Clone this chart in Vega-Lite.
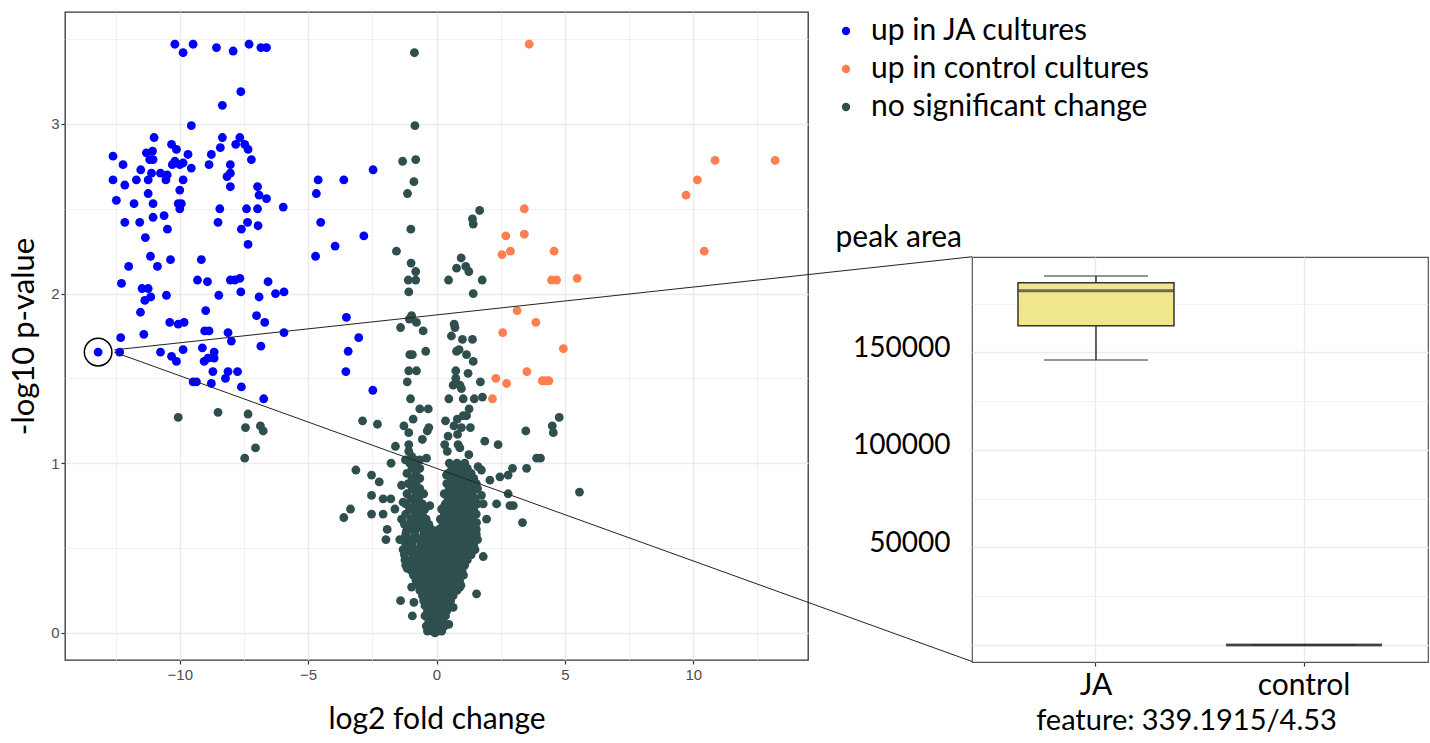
{
"$schema": "https://vega.github.io/schema/vega-lite/v6.json",
"autosize": {"type": "pad"},
"padding": {"left": 8, "top": 8, "right": 0, "bottom": 0},
"background": "white",
"bounds": "flush",
"spacing": 164,
"hconcat": [
{
"width": 743,
"height": 648,
"view": {"stroke": "#333333", "strokeWidth": 1.3},
"layer": [
{
"data": {"values": [
{"fc":-10.06,"p":1.27,"g":"ns"},{"fc":-8.51,"p":1.30,"g":"ns"},{"fc":-7.34,"p":1.29,"g":"ns"},{"fc":-7.44,"p":1.21,"g":"ns"},{"fc":-6.86,"p":1.22,"g":"ns"},{"fc":-6.75,"p":1.19,"g":"ns"},{"fc":-7.05,"p":1.09,"g":"ns"},{"fc":-7.47,"p":1.03,"g":"ns"},
{"fc":-0.86,"p":3.42,"g":"ns"},{"fc":-0.84,"p":2.99,"g":"ns"},{"fc":-1.32,"p":2.78,"g":"ns"},{"fc":-0.81,"p":2.79,"g":"ns"},{"fc":-0.88,"p":2.66,"g":"ns"},{"fc":-1.13,"p":2.59,"g":"ns"},{"fc":1.68,"p":2.49,"g":"ns"},{"fc":1.40,"p":2.44,"g":"ns"},{"fc":1.43,"p":2.41,"g":"ns"},{"fc":-1.0,"p":2.38,"g":"ns"},{"fc":-1.56,"p":2.25,"g":"ns"},{"fc":-0.99,"p":2.18,"g":"ns"},{"fc":-0.81,"p":2.13,"g":"ns"},{"fc":-1.10,"p":2.08,"g":"ns"},{"fc":-0.81,"p":2.08,"g":"ns"},{"fc":-1.08,"p":2.01,"g":"ns"},{"fc":0.96,"p":2.21,"g":"ns"},{"fc":0.78,"p":2.15,"g":"ns"},{"fc":1.14,"p":2.16,"g":"ns"},{"fc":1.26,"p":2.13,"g":"ns"},{"fc":0.47,"p":2.08,"g":"ns"},{"fc":1.78,"p":2.08,"g":"ns"},{"fc":1.43,"p":2.00,"g":"ns"},{"fc":-0.97,"p":1.87,"g":"ns"},{"fc":-1.06,"p":1.85,"g":"ns"},{"fc":-0.78,"p":1.83,"g":"ns"},{"fc":-1.40,"p":1.80,"g":"ns"},{"fc":-0.52,"p":1.78,"g":"ns"},{"fc":0.69,"p":1.82,"g":"ns"},{"fc":0.72,"p":1.80,"g":"ns"},
{"fc":4.78,"p":1.27,"g":"ns"},{"fc":4.51,"p":1.22,"g":"ns"},{"fc":4.55,"p":1.18,"g":"ns"},{"fc":4.05,"p":1.03,"g":"ns"},{"fc":5.57,"p":0.83,"g":"ns"},
{"fc":0.58,"p":1.75,"g":"ns"},{"fc":1.01,"p":1.73,"g":"ns"},{"fc":1.40,"p":1.73,"g":"ns"},{"fc":-0.42,"p":1.66,"g":"ns"},{"fc":-1.04,"p":1.64,"g":"ns"},{"fc":-0.94,"p":1.64,"g":"ns"},{"fc":0.78,"p":1.66,"g":"ns"},{"fc":0.88,"p":1.67,"g":"ns"},{"fc":1.17,"p":1.64,"g":"ns"},{"fc":1.43,"p":1.60,"g":"ns"},{"fc":-1.08,"p":1.545,"g":"ns"},{"fc":-0.78,"p":1.545,"g":"ns"},{"fc":0.75,"p":1.545,"g":"ns"},{"fc":1.23,"p":1.53,"g":"ns"},{"fc":-1.14,"p":1.48,"g":"ns"},{"fc":0.75,"p":1.50,"g":"ns"},{"fc":0.91,"p":1.46,"g":"ns"},{"fc":0.97,"p":1.44,"g":"ns"},{"fc":0.65,"p":1.46,"g":"ns"},{"fc":1.71,"p":1.48,"g":"ns"},{"fc":0.48,"p":1.38,"g":"ns"},{"fc":1.04,"p":1.38,"g":"ns"},{"fc":1.47,"p":1.38,"g":"ns"},{"fc":1.79,"p":1.39,"g":"ns"},{"fc":-1.01,"p":1.38,"g":"ns"},{"fc":-0.65,"p":1.32,"g":"ns"},{"fc":-0.32,"p":1.32,"g":"ns"},{"fc":1.27,"p":1.32,"g":"ns"},{"fc":1.04,"p":1.28,"g":"ns"},{"fc":1.17,"p":1.28,"g":"ns"},{"fc":-0.91,"p":1.26,"g":"ns"},{"fc":0.81,"p":1.26,"g":"ns"},{"fc":-2.88,"p":1.25,"g":"ns"},{"fc":-2.30,"p":1.23,"g":"ns"},{"fc":-1.27,"p":1.22,"g":"ns"},{"fc":0.35,"p":1.25,"g":"ns"},{"fc":0.68,"p":1.22,"g":"ns"},{"fc":0.97,"p":1.21,"g":"ns"},{"fc":1.32,"p":1.21,"g":"ns"},{"fc":-0.30,"p":1.21,"g":"ns"},{"fc":-0.36,"p":1.19,"g":"ns"},{"fc":-1.08,"p":1.18,"g":"ns"},{"fc":-0.55,"p":1.14,"g":"ns"},{"fc":0.45,"p":1.16,"g":"ns"},{"fc":0.82,"p":1.17,"g":"ns"},{"fc":3.48,"p":1.19,"g":"ns"},{"fc":-1.08,"p":1.11,"g":"ns"},{"fc":-1.60,"p":1.10,"g":"ns"},{"fc":0.32,"p":1.11,"g":"ns"},{"fc":0.42,"p":1.07,"g":"ns"},{"fc":0.84,"p":1.11,"g":"ns"},{"fc":0.91,"p":1.09,"g":"ns"},{"fc":1.88,"p":1.13,"g":"ns"},{"fc":2.40,"p":1.11,"g":"ns"},{"fc":-1.08,"p":1.07,"g":"ns"},{"fc":-0.97,"p":1.04,"g":"ns"},{"fc":1.26,"p":1.05,"g":"ns"},{"fc":3.90,"p":1.03,"g":"ns"},{"fc":-1.77,"p":1.00,"g":"ns"},{"fc":-1.21,"p":1.02,"g":"ns"},{"fc":-1.04,"p":1.00,"g":"ns"},{"fc":-0.84,"p":1.02,"g":"ns"},{"fc":-0.65,"p":1.02,"g":"ns"},{"fc":-0.39,"p":1.03,"g":"ns"},{"fc":0.88,"p":0.98,"g":"ns"},{"fc":1.62,"p":0.98,"g":"ns"},{"fc":1.75,"p":0.96,"g":"ns"},{"fc":2.96,"p":0.97,"g":"ns"},{"fc":3.51,"p":0.97,"g":"ns"},{"fc":-3.14,"p":0.96,"g":"ns"},{"fc":-2.53,"p":0.93,"g":"ns"},{"fc":-2.23,"p":0.89,"g":"ns"},{"fc":-1.36,"p":0.87,"g":"ns"},{"fc":0.39,"p":0.93,"g":"ns"},{"fc":0.65,"p":0.90,"g":"ns"},{"fc":1.08,"p":0.83,"g":"ns"},{"fc":2.08,"p":0.90,"g":"ns"},{"fc":2.47,"p":0.92,"g":"ns"},{"fc":2.79,"p":0.93,"g":"ns"},{"fc":2.79,"p":0.82,"g":"ns"},{"fc":1.75,"p":0.81,"g":"ns"},{"fc":-2.53,"p":0.81,"g":"ns"},{"fc":-2.08,"p":0.79,"g":"ns"},{"fc":-1.78,"p":0.79,"g":"ns"},{"fc":-3.35,"p":0.73,"g":"ns"},{"fc":-3.61,"p":0.68,"g":"ns"},{"fc":-2.53,"p":0.70,"g":"ns"},{"fc":-2.08,"p":0.70,"g":"ns"},{"fc":-1.62,"p":0.73,"g":"ns"},{"fc":-1.30,"p":0.77,"g":"ns"},{"fc":-0.97,"p":0.73,"g":"ns"},{"fc":-0.26,"p":0.75,"g":"ns"},{"fc":0.32,"p":0.75,"g":"ns"},{"fc":1.82,"p":0.76,"g":"ns"},{"fc":2.34,"p":0.76,"g":"ns"},{"fc":2.99,"p":0.75,"g":"ns"},
{"fc":-1.92,"p":0.61,"g":"ns"},{"fc":-1.97,"p":0.55,"g":"ns"},{"fc":-1.43,"p":0.55,"g":"ns"},{"fc":-1.17,"p":0.60,"g":"ns"},{"fc":-1.36,"p":0.67,"g":"ns"},{"fc":-0.94,"p":0.64,"g":"ns"},{"fc":-0.65,"p":0.68,"g":"ns"},{"fc":-0.39,"p":0.61,"g":"ns"},{"fc":-0.45,"p":0.53,"g":"ns"},{"fc":3.35,"p":0.65,"g":"ns"},{"fc":2.86,"p":0.75,"g":"ns"},{"fc":1.95,"p":0.67,"g":"ns"},{"fc":1.56,"p":0.65,"g":"ns"},{"fc":1.30,"p":0.57,"g":"ns"},{"fc":1.82,"p":0.45,"g":"ns"},{"fc":1.04,"p":0.42,"g":"ns"},{"fc":-1.17,"p":0.48,"g":"ns"},{"fc":-1.23,"p":0.43,"g":"ns"},{"fc":-1.14,"p":0.38,"g":"ns"},{"fc":-0.97,"p":0.27,"g":"ns"},{"fc":-1.40,"p":0.19,"g":"ns"},{"fc":-0.88,"p":0.18,"g":"ns"},{"fc":-0.94,"p":0.10,"g":"ns"},{"fc":1.56,"p":0.23,"g":"ns"},{"fc":0.65,"p":0.15,"g":"ns"},{"fc":0.91,"p":0.27,"g":"ns"},{"fc":0.48,"p":0.05,"g":"ns"},{"fc":-0.26,"p":0.02,"g":"ns"},{"fc":-0.06,"p":0.0,"g":"ns"},
{"fc":-0.35,"p":0.01,"g":"ns"},{"fc":-0.15,"p":0.01,"g":"ns"},{"fc":0.05,"p":0.01,"g":"ns"},{"fc":0.2,"p":0.01,"g":"ns"},
{"fc":-0.4,"p":0.04,"g":"ns"},{"fc":-0.2,"p":0.04,"g":"ns"},{"fc":0.0,"p":0.04,"g":"ns"},{"fc":0.15,"p":0.04,"g":"ns"},{"fc":0.3,"p":0.04,"g":"ns"},
{"fc":-0.3,"p":0.07,"g":"ns"},{"fc":-0.1,"p":0.07,"g":"ns"},{"fc":0.1,"p":0.07,"g":"ns"},{"fc":0.25,"p":0.07,"g":"ns"},
{"fc":-0.45,"p":0.10,"g":"ns"},{"fc":-0.25,"p":0.10,"g":"ns"},{"fc":-0.05,"p":0.10,"g":"ns"},{"fc":0.15,"p":0.10,"g":"ns"},{"fc":0.35,"p":0.10,"g":"ns"},
{"fc":-0.35,"p":0.13,"g":"ns"},{"fc":-0.15,"p":0.13,"g":"ns"},{"fc":0.05,"p":0.13,"g":"ns"},{"fc":0.25,"p":0.13,"g":"ns"},{"fc":0.4,"p":0.13,"g":"ns"},
{"fc":-0.45,"p":0.16,"g":"ns"},{"fc":-0.25,"p":0.16,"g":"ns"},{"fc":-0.05,"p":0.16,"g":"ns"},{"fc":0.15,"p":0.16,"g":"ns"},{"fc":0.35,"p":0.16,"g":"ns"},{"fc":0.5,"p":0.16,"g":"ns"},
{"fc":-0.5,"p":0.19,"g":"ns"},{"fc":-0.3,"p":0.19,"g":"ns"},{"fc":-0.1,"p":0.19,"g":"ns"},{"fc":0.1,"p":0.19,"g":"ns"},{"fc":0.3,"p":0.19,"g":"ns"},{"fc":0.55,"p":0.19,"g":"ns"},
{"fc":-0.55,"p":0.22,"g":"ns"},{"fc":-0.35,"p":0.22,"g":"ns"},{"fc":-0.15,"p":0.22,"g":"ns"},{"fc":0.05,"p":0.22,"g":"ns"},{"fc":0.25,"p":0.22,"g":"ns"},{"fc":0.45,"p":0.22,"g":"ns"},{"fc":0.65,"p":0.22,"g":"ns"},
{"fc":-0.65,"p":0.25,"g":"ns"},{"fc":-0.4,"p":0.25,"g":"ns"},{"fc":-0.2,"p":0.25,"g":"ns"},{"fc":0.0,"p":0.25,"g":"ns"},{"fc":0.2,"p":0.25,"g":"ns"},{"fc":0.4,"p":0.25,"g":"ns"},{"fc":0.6,"p":0.25,"g":"ns"},{"fc":0.8,"p":0.25,"g":"ns"},
{"fc":-0.7,"p":0.28,"g":"ns"},{"fc":-0.45,"p":0.28,"g":"ns"},{"fc":-0.25,"p":0.28,"g":"ns"},{"fc":-0.05,"p":0.28,"g":"ns"},{"fc":0.15,"p":0.28,"g":"ns"},{"fc":0.35,"p":0.28,"g":"ns"},{"fc":0.55,"p":0.28,"g":"ns"},{"fc":0.75,"p":0.28,"g":"ns"},{"fc":0.95,"p":0.28,"g":"ns"},
{"fc":-0.8,"p":0.31,"g":"ns"},{"fc":-0.55,"p":0.31,"g":"ns"},{"fc":-0.3,"p":0.31,"g":"ns"},{"fc":-0.1,"p":0.31,"g":"ns"},{"fc":0.1,"p":0.31,"g":"ns"},{"fc":0.3,"p":0.31,"g":"ns"},{"fc":0.5,"p":0.31,"g":"ns"},{"fc":0.7,"p":0.31,"g":"ns"},{"fc":0.9,"p":0.31,"g":"ns"},
{"fc":-0.9,"p":0.34,"g":"ns"},{"fc":-0.6,"p":0.34,"g":"ns"},{"fc":-0.35,"p":0.34,"g":"ns"},{"fc":-0.15,"p":0.34,"g":"ns"},{"fc":0.05,"p":0.34,"g":"ns"},{"fc":0.25,"p":0.34,"g":"ns"},{"fc":0.45,"p":0.34,"g":"ns"},{"fc":0.65,"p":0.34,"g":"ns"},{"fc":0.85,"p":0.34,"g":"ns"},{"fc":1.05,"p":0.34,"g":"ns"},
{"fc":-1.0,"p":0.37,"g":"ns"},{"fc":-0.7,"p":0.37,"g":"ns"},{"fc":-0.45,"p":0.37,"g":"ns"},{"fc":-0.2,"p":0.37,"g":"ns"},{"fc":0.0,"p":0.37,"g":"ns"},{"fc":0.2,"p":0.37,"g":"ns"},{"fc":0.4,"p":0.37,"g":"ns"},{"fc":0.6,"p":0.37,"g":"ns"},{"fc":0.8,"p":0.37,"g":"ns"},{"fc":1.0,"p":0.37,"g":"ns"},
{"fc":-1.2,"p":0.40,"g":"ns"},{"fc":-0.9,"p":0.40,"g":"ns"},{"fc":-0.6,"p":0.40,"g":"ns"},{"fc":-0.35,"p":0.40,"g":"ns"},{"fc":-0.1,"p":0.40,"g":"ns"},{"fc":0.1,"p":0.40,"g":"ns"},{"fc":0.3,"p":0.40,"g":"ns"},{"fc":0.5,"p":0.40,"g":"ns"},{"fc":0.7,"p":0.40,"g":"ns"},{"fc":0.9,"p":0.40,"g":"ns"},{"fc":1.1,"p":0.40,"g":"ns"},
{"fc":-1.0,"p":0.43,"g":"ns"},{"fc":-0.75,"p":0.43,"g":"ns"},{"fc":-0.5,"p":0.43,"g":"ns"},{"fc":-0.25,"p":0.43,"g":"ns"},{"fc":0.0,"p":0.43,"g":"ns"},{"fc":0.2,"p":0.43,"g":"ns"},{"fc":0.4,"p":0.43,"g":"ns"},{"fc":0.6,"p":0.43,"g":"ns"},{"fc":0.8,"p":0.43,"g":"ns"},{"fc":1.0,"p":0.43,"g":"ns"},{"fc":1.2,"p":0.43,"g":"ns"},
{"fc":-1.25,"p":0.46,"g":"ns"},{"fc":-0.9,"p":0.46,"g":"ns"},{"fc":-0.6,"p":0.46,"g":"ns"},{"fc":-0.35,"p":0.46,"g":"ns"},{"fc":-0.1,"p":0.46,"g":"ns"},{"fc":0.15,"p":0.46,"g":"ns"},{"fc":0.35,"p":0.46,"g":"ns"},{"fc":0.55,"p":0.46,"g":"ns"},{"fc":0.75,"p":0.46,"g":"ns"},{"fc":0.95,"p":0.46,"g":"ns"},{"fc":1.15,"p":0.46,"g":"ns"},{"fc":1.35,"p":0.46,"g":"ns"},
{"fc":-1.3,"p":0.49,"g":"ns"},{"fc":-1.05,"p":0.49,"g":"ns"},{"fc":-0.75,"p":0.49,"g":"ns"},{"fc":-0.45,"p":0.49,"g":"ns"},{"fc":-0.2,"p":0.49,"g":"ns"},{"fc":0.05,"p":0.49,"g":"ns"},{"fc":0.25,"p":0.49,"g":"ns"},{"fc":0.5,"p":0.49,"g":"ns"},{"fc":0.7,"p":0.49,"g":"ns"},{"fc":0.9,"p":0.49,"g":"ns"},{"fc":1.1,"p":0.49,"g":"ns"},{"fc":1.3,"p":0.49,"g":"ns"},{"fc":1.5,"p":0.49,"g":"ns"},
{"fc":-1.2,"p":0.52,"g":"ns"},{"fc":-0.95,"p":0.52,"g":"ns"},{"fc":-0.6,"p":0.52,"g":"ns"},{"fc":-0.3,"p":0.52,"g":"ns"},{"fc":-0.05,"p":0.52,"g":"ns"},{"fc":0.15,"p":0.52,"g":"ns"},{"fc":0.4,"p":0.52,"g":"ns"},{"fc":0.6,"p":0.52,"g":"ns"},{"fc":0.85,"p":0.52,"g":"ns"},{"fc":1.05,"p":0.52,"g":"ns"},{"fc":1.25,"p":0.52,"g":"ns"},{"fc":1.45,"p":0.52,"g":"ns"},
{"fc":-1.3,"p":0.55,"g":"ns"},{"fc":-1.0,"p":0.55,"g":"ns"},{"fc":-0.7,"p":0.55,"g":"ns"},{"fc":-0.4,"p":0.55,"g":"ns"},{"fc":-0.15,"p":0.55,"g":"ns"},{"fc":0.1,"p":0.55,"g":"ns"},{"fc":0.3,"p":0.55,"g":"ns"},{"fc":0.55,"p":0.55,"g":"ns"},{"fc":0.75,"p":0.55,"g":"ns"},{"fc":1.0,"p":0.55,"g":"ns"},{"fc":1.2,"p":0.55,"g":"ns"},{"fc":1.4,"p":0.55,"g":"ns"},{"fc":1.6,"p":0.55,"g":"ns"},
{"fc":-1.2,"p":0.58,"g":"ns"},{"fc":-0.85,"p":0.58,"g":"ns"},{"fc":-0.5,"p":0.58,"g":"ns"},{"fc":-0.25,"p":0.58,"g":"ns"},{"fc":0.0,"p":0.58,"g":"ns"},{"fc":0.25,"p":0.58,"g":"ns"},{"fc":0.45,"p":0.58,"g":"ns"},{"fc":0.7,"p":0.58,"g":"ns"},{"fc":0.9,"p":0.58,"g":"ns"},{"fc":1.15,"p":0.58,"g":"ns"},{"fc":1.35,"p":0.58,"g":"ns"},{"fc":1.55,"p":0.58,"g":"ns"},
{"fc":-1.1,"p":0.61,"g":"ns"},{"fc":-0.8,"p":0.61,"g":"ns"},{"fc":-0.5,"p":0.61,"g":"ns"},{"fc":-0.2,"p":0.61,"g":"ns"},{"fc":0.1,"p":0.61,"g":"ns"},{"fc":0.35,"p":0.61,"g":"ns"},{"fc":0.6,"p":0.61,"g":"ns"},{"fc":0.85,"p":0.61,"g":"ns"},{"fc":1.1,"p":0.61,"g":"ns"},{"fc":1.3,"p":0.61,"g":"ns"},{"fc":1.55,"p":0.61,"g":"ns"},
{"fc":-1.25,"p":0.64,"g":"ns"},{"fc":-0.9,"p":0.64,"g":"ns"},{"fc":-0.6,"p":0.64,"g":"ns"},{"fc":-0.3,"p":0.64,"g":"ns"},{"fc":0.25,"p":0.64,"g":"ns"},{"fc":0.5,"p":0.64,"g":"ns"},{"fc":0.75,"p":0.64,"g":"ns"},{"fc":1.0,"p":0.64,"g":"ns"},{"fc":1.25,"p":0.64,"g":"ns"},{"fc":1.5,"p":0.64,"g":"ns"},
{"fc":-1.0,"p":0.67,"g":"ns"},{"fc":-0.7,"p":0.67,"g":"ns"},{"fc":-0.4,"p":0.67,"g":"ns"},{"fc":0.15,"p":0.67,"g":"ns"},{"fc":0.4,"p":0.67,"g":"ns"},{"fc":0.65,"p":0.67,"g":"ns"},{"fc":0.9,"p":0.67,"g":"ns"},{"fc":1.15,"p":0.67,"g":"ns"},{"fc":1.4,"p":0.67,"g":"ns"},
{"fc":-1.2,"p":0.70,"g":"ns"},{"fc":-0.85,"p":0.70,"g":"ns"},{"fc":-0.55,"p":0.70,"g":"ns"},{"fc":0.3,"p":0.70,"g":"ns"},{"fc":0.55,"p":0.70,"g":"ns"},{"fc":0.8,"p":0.70,"g":"ns"},{"fc":1.05,"p":0.70,"g":"ns"},{"fc":1.3,"p":0.70,"g":"ns"},{"fc":1.55,"p":0.70,"g":"ns"},
{"fc":-1.05,"p":0.73,"g":"ns"},{"fc":-0.7,"p":0.73,"g":"ns"},{"fc":-0.45,"p":0.73,"g":"ns"},{"fc":0.2,"p":0.73,"g":"ns"},{"fc":0.45,"p":0.73,"g":"ns"},{"fc":0.7,"p":0.73,"g":"ns"},{"fc":0.95,"p":0.73,"g":"ns"},{"fc":1.2,"p":0.73,"g":"ns"},{"fc":1.45,"p":0.73,"g":"ns"},
{"fc":-1.2,"p":0.76,"g":"ns"},{"fc":-0.85,"p":0.76,"g":"ns"},{"fc":-0.55,"p":0.76,"g":"ns"},{"fc":0.35,"p":0.76,"g":"ns"},{"fc":0.6,"p":0.76,"g":"ns"},{"fc":0.85,"p":0.76,"g":"ns"},{"fc":1.1,"p":0.76,"g":"ns"},{"fc":1.35,"p":0.76,"g":"ns"},{"fc":1.6,"p":0.76,"g":"ns"},
{"fc":-1.0,"p":0.79,"g":"ns"},{"fc":-0.7,"p":0.79,"g":"ns"},{"fc":0.45,"p":0.79,"g":"ns"},{"fc":0.7,"p":0.79,"g":"ns"},{"fc":0.95,"p":0.79,"g":"ns"},{"fc":1.25,"p":0.79,"g":"ns"},{"fc":1.5,"p":0.79,"g":"ns"},
{"fc":-1.15,"p":0.82,"g":"ns"},{"fc":-0.8,"p":0.82,"g":"ns"},{"fc":-0.5,"p":0.82,"g":"ns"},{"fc":0.3,"p":0.82,"g":"ns"},{"fc":0.6,"p":0.82,"g":"ns"},{"fc":0.85,"p":0.82,"g":"ns"},{"fc":1.15,"p":0.82,"g":"ns"},{"fc":1.4,"p":0.82,"g":"ns"},
{"fc":-0.95,"p":0.85,"g":"ns"},{"fc":-0.65,"p":0.85,"g":"ns"},{"fc":0.5,"p":0.85,"g":"ns"},{"fc":0.75,"p":0.85,"g":"ns"},{"fc":1.05,"p":0.85,"g":"ns"},{"fc":1.3,"p":0.85,"g":"ns"},{"fc":1.6,"p":0.85,"g":"ns"},
{"fc":-1.1,"p":0.88,"g":"ns"},{"fc":-0.8,"p":0.88,"g":"ns"},{"fc":0.4,"p":0.88,"g":"ns"},{"fc":0.65,"p":0.88,"g":"ns"},{"fc":0.95,"p":0.88,"g":"ns"},{"fc":1.25,"p":0.88,"g":"ns"},{"fc":1.55,"p":0.88,"g":"ns"},
{"fc":-0.95,"p":0.91,"g":"ns"},{"fc":-0.65,"p":0.91,"g":"ns"},{"fc":0.55,"p":0.91,"g":"ns"},{"fc":0.85,"p":0.91,"g":"ns"},{"fc":1.15,"p":0.91,"g":"ns"},{"fc":1.45,"p":0.91,"g":"ns"},
{"fc":-1.15,"p":0.94,"g":"ns"},{"fc":-0.8,"p":0.94,"g":"ns"},{"fc":0.45,"p":0.94,"g":"ns"},{"fc":0.75,"p":0.94,"g":"ns"},{"fc":1.05,"p":0.94,"g":"ns"},{"fc":1.35,"p":0.94,"g":"ns"},
{"fc":-0.95,"p":0.97,"g":"ns"},{"fc":-0.65,"p":0.97,"g":"ns"},{"fc":0.6,"p":0.97,"g":"ns"},{"fc":0.9,"p":0.97,"g":"ns"},{"fc":1.2,"p":0.97,"g":"ns"},
{"fc":-0.8,"p":1.00,"g":"ns"},{"fc":0.5,"p":1.00,"g":"ns"},{"fc":0.8,"p":1.00,"g":"ns"},{"fc":1.1,"p":1.00,"g":"ns"},
{"fc":-10.19,"p":3.47,"g":"JA"},{"fc":-9.48,"p":3.47,"g":"JA"},{"fc":-9.87,"p":3.42,"g":"JA"},{"fc":-8.57,"p":3.45,"g":"JA"},{"fc":-7.92,"p":3.43,"g":"JA"},{"fc":-7.30,"p":3.47,"g":"JA"},{"fc":-6.84,"p":3.45,"g":"JA"},{"fc":-6.62,"p":3.45,"g":"JA"},
{"fc":-7.62,"p":3.19,"g":"JA"},{"fc":-8.34,"p":3.11,"g":"JA"},{"fc":-9.55,"p":2.99,"g":"JA"},
{"fc":-11.0,"p":2.92,"g":"JA"},{"fc":-8.34,"p":2.92,"g":"JA"},{"fc":-7.66,"p":2.92,"g":"JA"},{"fc":-10.32,"p":2.88,"g":"JA"},{"fc":-7.82,"p":2.88,"g":"JA"},{"fc":-7.47,"p":2.88,"g":"JA"},{"fc":-11.06,"p":2.84,"g":"JA"},{"fc":-11.3,"p":2.83,"g":"JA"},{"fc":-10.13,"p":2.85,"g":"JA"},{"fc":-8.42,"p":2.86,"g":"JA"},{"fc":-7.34,"p":2.85,"g":"JA"},{"fc":-9.68,"p":2.82,"g":"JA"},{"fc":-8.77,"p":2.82,"g":"JA"},{"fc":-12.6,"p":2.81,"g":"JA"},{"fc":-11.17,"p":2.79,"g":"JA"},{"fc":-11.04,"p":2.79,"g":"JA"},{"fc":-10.19,"p":2.78,"g":"JA"},{"fc":-9.87,"p":2.77,"g":"JA"},{"fc":-10.0,"p":2.76,"g":"JA"},{"fc":-7.21,"p":2.79,"g":"JA"},{"fc":-12.21,"p":2.76,"g":"JA"},{"fc":-10.29,"p":2.76,"g":"JA"},{"fc":-8.86,"p":2.76,"g":"JA"},{"fc":-8.03,"p":2.76,"g":"JA"},{"fc":-11.52,"p":2.73,"g":"JA"},{"fc":-9.55,"p":2.74,"g":"JA"},{"fc":-11.1,"p":2.71,"g":"JA"},{"fc":-10.75,"p":2.71,"g":"JA"},{"fc":-10.49,"p":2.70,"g":"JA"},{"fc":-8.03,"p":2.71,"g":"JA"},{"fc":-8.16,"p":2.69,"g":"JA"},{"fc":-12.6,"p":2.67,"g":"JA"},{"fc":-11.69,"p":2.67,"g":"JA"},{"fc":-11.23,"p":2.67,"g":"JA"},{"fc":-10.54,"p":2.67,"g":"JA"},{"fc":-9.87,"p":2.67,"g":"JA"},{"fc":-12.14,"p":2.64,"g":"JA"},{"fc":-8.03,"p":2.63,"g":"JA"},{"fc":-6.97,"p":2.63,"g":"JA"},{"fc":-10.0,"p":2.61,"g":"JA"},{"fc":-11.23,"p":2.59,"g":"JA"},{"fc":-6.91,"p":2.58,"g":"JA"},{"fc":-6.62,"p":2.56,"g":"JA"},{"fc":-12.47,"p":2.55,"g":"JA"},{"fc":-11.78,"p":2.53,"g":"JA"},{"fc":-11.04,"p":2.53,"g":"JA"},{"fc":-10.06,"p":2.53,"g":"JA"},{"fc":-9.94,"p":2.53,"g":"JA"},{"fc":-10.0,"p":2.50,"g":"JA"},{"fc":-8.44,"p":2.50,"g":"JA"},{"fc":-7.40,"p":2.50,"g":"JA"},{"fc":-6.97,"p":2.50,"g":"JA"},{"fc":-5.97,"p":2.51,"g":"JA"},{"fc":-12.14,"p":2.42,"g":"JA"},{"fc":-11.56,"p":2.42,"g":"JA"},{"fc":-11.04,"p":2.45,"g":"JA"},{"fc":-10.61,"p":2.46,"g":"JA"},{"fc":-10.48,"p":2.38,"g":"JA"},{"fc":-8.51,"p":2.42,"g":"JA"},{"fc":-7.36,"p":2.42,"g":"JA"},{"fc":-7.6,"p":2.38,"g":"JA"},{"fc":-6.95,"p":2.40,"g":"JA"},{"fc":-11.34,"p":2.33,"g":"JA"},
{"fc":-7.34,"p":2.29,"g":"JA"},{"fc":-11.14,"p":2.22,"g":"JA"},{"fc":-10.36,"p":2.20,"g":"JA"},{"fc":-9.16,"p":2.20,"g":"JA"},{"fc":-11.99,"p":2.16,"g":"JA"},{"fc":-10.87,"p":2.16,"g":"JA"},{"fc":-12.27,"p":2.06,"g":"JA"},{"fc":-9.31,"p":2.08,"g":"JA"},{"fc":-8.92,"p":2.07,"g":"JA"},{"fc":-8.03,"p":2.08,"g":"JA"},{"fc":-7.66,"p":2.09,"g":"JA"},{"fc":-7.86,"p":2.08,"g":"JA"},{"fc":-6.56,"p":2.07,"g":"JA"},{"fc":-11.47,"p":2.03,"g":"JA"},{"fc":-11.23,"p":2.03,"g":"JA"},{"fc":-11.13,"p":1.98,"g":"JA"},{"fc":-11.36,"p":1.96,"g":"JA"},{"fc":-10.52,"p":1.99,"g":"JA"},{"fc":-8.48,"p":1.99,"g":"JA"},{"fc":-7.62,"p":2.01,"g":"JA"},{"fc":-6.91,"p":1.98,"g":"JA"},{"fc":-6.27,"p":2.00,"g":"JA"},{"fc":-5.94,"p":2.01,"g":"JA"},{"fc":-11.53,"p":1.89,"g":"JA"},{"fc":-8.99,"p":1.90,"g":"JA"},{"fc":-7.01,"p":1.87,"g":"JA"},{"fc":-6.69,"p":1.83,"g":"JA"},{"fc":-10.39,"p":1.83,"g":"JA"},{"fc":-10.06,"p":1.82,"g":"JA"},{"fc":-9.83,"p":1.83,"g":"JA"},{"fc":-9.03,"p":1.78,"g":"JA"},{"fc":-8.86,"p":1.78,"g":"JA"},{"fc":-8.12,"p":1.77,"g":"JA"},{"fc":-7.99,"p":1.72,"g":"JA"},{"fc":-5.94,"p":1.77,"g":"JA"},{"fc":-11.40,"p":1.76,"g":"JA"},{"fc":-12.30,"p":1.74,"g":"JA"},{"fc":-6.84,"p":1.69,"g":"JA"},{"fc":-13.18,"p":1.655,"g":"JA"},{"fc":-12.34,"p":1.655,"g":"JA"},{"fc":-10.75,"p":1.655,"g":"JA"},{"fc":-9.87,"p":1.67,"g":"JA"},{"fc":-9.12,"p":1.68,"g":"JA"},{"fc":-8.66,"p":1.655,"g":"JA"},{"fc":-10.32,"p":1.63,"g":"JA"},{"fc":-10.13,"p":1.60,"g":"JA"},{"fc":-9.05,"p":1.60,"g":"JA"},{"fc":-8.9,"p":1.62,"g":"JA"},{"fc":-8.66,"p":1.62,"g":"JA"},{"fc":-8.71,"p":1.54,"g":"JA"},{"fc":-8.12,"p":1.54,"g":"JA"},{"fc":-7.75,"p":1.54,"g":"JA"},{"fc":-8.22,"p":1.50,"g":"JA"},{"fc":-9.48,"p":1.48,"g":"JA"},{"fc":-9.35,"p":1.48,"g":"JA"},{"fc":-8.77,"p":1.47,"g":"JA"},{"fc":-7.6,"p":1.45,"g":"JA"},{"fc":-6.73,"p":1.38,"g":"JA"},
{"fc":-4.61,"p":2.67,"g":"JA"},{"fc":-3.61,"p":2.67,"g":"JA"},{"fc":-2.47,"p":2.73,"g":"JA"},{"fc":-4.68,"p":2.59,"g":"JA"},{"fc":-4.51,"p":2.42,"g":"JA"},{"fc":-2.83,"p":2.34,"g":"JA"},{"fc":-3.95,"p":2.28,"g":"JA"},{"fc":-4.71,"p":2.22,"g":"JA"},{"fc":-3.51,"p":1.86,"g":"JA"},{"fc":-3.03,"p":1.74,"g":"JA"},{"fc":-3.44,"p":1.66,"g":"JA"},{"fc":-3.53,"p":1.54,"g":"JA"},{"fc":-2.48,"p":1.43,"g":"JA"},
{"fc":3.61,"p":3.47,"g":"control"},{"fc":3.42,"p":2.50,"g":"control"},{"fc":2.70,"p":2.34,"g":"control"},{"fc":3.42,"p":2.35,"g":"control"},{"fc":2.88,"p":2.25,"g":"control"},{"fc":2.55,"p":2.23,"g":"control"},{"fc":4.58,"p":2.25,"g":"control"},{"fc":4.48,"p":2.08,"g":"control"},{"fc":4.68,"p":2.08,"g":"control"},{"fc":3.14,"p":1.90,"g":"control"},{"fc":3.87,"p":1.83,"g":"control"},{"fc":2.58,"p":1.77,"g":"control"},{"fc":10.85,"p":2.785,"g":"control"},{"fc":13.19,"p":2.785,"g":"control"},{"fc":10.16,"p":2.67,"g":"control"},{"fc":9.72,"p":2.58,"g":"control"},{"fc":10.43,"p":2.25,"g":"control"},{"fc":5.48,"p":2.09,"g":"control"},{"fc":4.94,"p":1.675,"g":"control"},{"fc":4.12,"p":1.486,"g":"control"},{"fc":4.26,"p":1.486,"g":"control"},{"fc":4.38,"p":1.486,"g":"control"},{"fc":2.31,"p":1.50,"g":"control"},{"fc":2.73,"p":1.47,"g":"control"},{"fc":3.52,"p":1.54,"g":"control"},{"fc":2.18,"p":1.38,"g":"control"}
]},
"mark": {"type": "point", "filled": true, "opacity": 1, "size": 78},
"encoding": {
"x": {"field": "fc", "type": "quantitative",
"scale": {"domain": [-14.47, 14.47], "nice": false, "zero": false},
"axis": {"title": "log2 fold change", "titleFont": "Lato", "titleFontSize": 30, "titleFontWeight": "normal", "titleColor": "black", "titlePadding": 22,
"values": [-12.5, -10, -7.5, -5, -2.5, 0, 2.5, 5, 7.5, 10, 12.5],
"labelExpr": "datum.value % 5 === 0 ? datum.label : ''",
"labelFont": "Liberation Sans", "labelFontSize": 15, "labelColor": "#4D4D4D", "labelPadding": 3, "labelFlush": false,
"tickSize": 4, "tickColor": "#333333", "tickWidth": 1.2,
"tickOpacity": {"condition": {"test": "datum.value % 5 === 0", "value": 1}, "value": 0},
"domain": false, "grid": true, "gridColor": "#EBEBEB",
"gridWidth": {"condition": {"test": "datum.value % 5 === 0", "value": 1.5}, "value": 0.75}}},
"y": {"field": "p", "type": "quantitative",
"scale": {"domain": [-0.16, 3.66], "nice": false, "zero": false},
"axis": {"title": "-log10 p-value", "titleFont": "Lato", "titleFontSize": 31, "titleFontWeight": "normal", "titleColor": "black", "titlePadding": 10,
"values": [0, 0.5, 1, 1.5, 2, 2.5, 3, 3.5],
"labelExpr": "datum.value % 1 === 0 ? format(datum.value, 'd') : ''",
"labelFont": "Liberation Sans", "labelFontSize": 15, "labelColor": "#4D4D4D", "labelPadding": 2, "labelFlush": false,
"tickSize": 4, "tickColor": "#333333", "tickWidth": 1.2,
"tickOpacity": {"condition": {"test": "datum.value % 1 === 0", "value": 1}, "value": 0},
"domain": false, "grid": true, "gridColor": "#EBEBEB",
"gridWidth": {"condition": {"test": "datum.value % 1 === 0", "value": 1.5}, "value": 0.75}}},
"color": {"field": "g", "type": "nominal",
"scale": {"domain": ["JA", "control", "ns"], "range": ["#0000FF", "#FF7F50", "#2F4F4F"]},
"legend": {"title": null, "orient": "none", "legendX": 766, "legendY": 4, "padding": 0,
"labelExpr": "datum.value === 'JA' ? 'up in JA cultures' : datum.value === 'control' ? 'up in control cultures' : 'no significant change'",
"labelFont": "Lato", "labelFontSize": 30, "labelColor": "black", "labelLimit": 600,
"symbolSize": 70, "symbolType": "circle", "symbolStrokeWidth": 0, "labelOffset": 10, "rowPadding": 8}}
}
},
{
"data": {"values": [{"fc": -13.18, "p": 1.655}]},
"mark": {"type": "point", "shape": "circle", "filled": false, "size": 760, "stroke": "black", "strokeWidth": 1.5, "opacity": 1},
"encoding": {"x": {"field": "fc", "type": "quantitative"}, "y": {"field": "p", "type": "quantitative"}}
},
{
"data": {"values": [{"fc": -12.55, "p": 1.668, "fc2": 20.86, "p2": 2.217}, {"fc": -12.55, "p": 1.655, "fc2": 20.86, "p2": -0.169}]},
"mark": {"type": "rule", "color": "#222222", "strokeWidth": 1},
"encoding": {"x": {"field": "fc", "type": "quantitative"}, "y": {"field": "p", "type": "quantitative"}, "x2": {"field": "fc2"}, "y2": {"field": "p2"}}
}
]
},
{
"bounds": "flush",
"spacing": 240,
"vconcat": [
{
"width": 456,
"height": 5,
"view": {"stroke": null},
"data": {"values": [{"t": ""}]},
"mark": {"type": "text"},
"encoding": {"text": {"field": "t", "type": "nominal"}}
},
{
"width": 456,
"height": 405,
"view": {"stroke": "#555555", "strokeWidth": 1.2},
"data": {"values": [
{"grp": "JA", "lo": 146150, "q1": 163750, "med": 181700, "q3": 185800, "hi": 189230},
{"grp": "control", "lo": 0, "q1": 0, "med": 0, "q3": 0, "hi": 0}
]},
"encoding": {
"x": {"field": "grp", "type": "nominal", "sort": ["JA", "control"],
"scale": {"paddingInner": 0.25, "paddingOuter": 0.221},
"axis": {"title": "feature: 339.1915/4.53", "titleFont": "Lato", "titleFontSize": 29, "titleFontWeight": "normal", "titleColor": "black", "titlePadding": 6, "titleX": 214, "titleAlign": "center",
"labelAngle": 0, "labelFont": "Lato", "labelFontSize": 30, "labelColor": "black", "labelPadding": 4,
"tickSize": 4, "tickColor": "#333333", "tickWidth": 1.2,
"domain": false, "grid": true, "gridColor": "#EBEBEB", "gridWidth": 1.4}}
},
"layer": [
{
"mark": {"type": "rule", "color": "#333333", "strokeWidth": 1.5},
"encoding": {
"y": {"field": "lo", "type": "quantitative", "title": "peak area",
"scale": {"domain": [-8718, 198974], "nice": false, "zero": false},
"axis": {"titleFont": "Lato", "titleFontSize": 30, "titleFontWeight": "normal", "titleColor": "black",
"titleAngle": 0, "titleAlign": "left", "titleBaseline": "alphabetic", "titleX": -137, "titleY": -11,
"values": [0, 25000, 50000, 75000, 100000, 125000, 150000, 175000],
"labelExpr": "datum.value % 50000 === 0 && datum.value > 0 ? format(datum.value, 'd') : ''",
"labelFont": "Lato", "labelFontSize": 28, "labelColor": "black", "labelPadding": 22, "labelOffset": -4,
"ticks": false, "domain": false, "grid": true, "gridColor": "#EBEBEB",
"gridWidth": {"condition": {"test": "datum.value % 50000 === 0", "value": 1.4}, "value": 0.7}}},
"y2": {"field": "q1"}
}
},
{
"mark": {"type": "rule", "color": "#333333", "strokeWidth": 1.5},
"encoding": {"y": {"field": "q3", "type": "quantitative", "title": "peak area"}, "y2": {"field": "hi"}}
},
{
"mark": {"type": "bar", "fill": "#F0E68C", "stroke": "#333333", "strokeWidth": 1.5},
"encoding": {"y": {"field": "q1", "type": "quantitative", "title": "peak area"}, "y2": {"field": "q3"}}
},
{
"mark": {"type": "tick", "color": "#333333", "thickness": 3, "size": 156},
"encoding": {"y": {"field": "med", "type": "quantitative", "title": "peak area"}}
},
{
"mark": {"type": "tick", "color": "#333333", "thickness": 1.5, "size": 104},
"encoding": {"y": {"field": "lo", "type": "quantitative", "title": "peak area"}}
},
{
"mark": {"type": "tick", "color": "#333333", "thickness": 1.5, "size": 104},
"encoding": {"y": {"field": "hi", "type": "quantitative", "title": "peak area"}}
}
]
}
]
}
]
}
